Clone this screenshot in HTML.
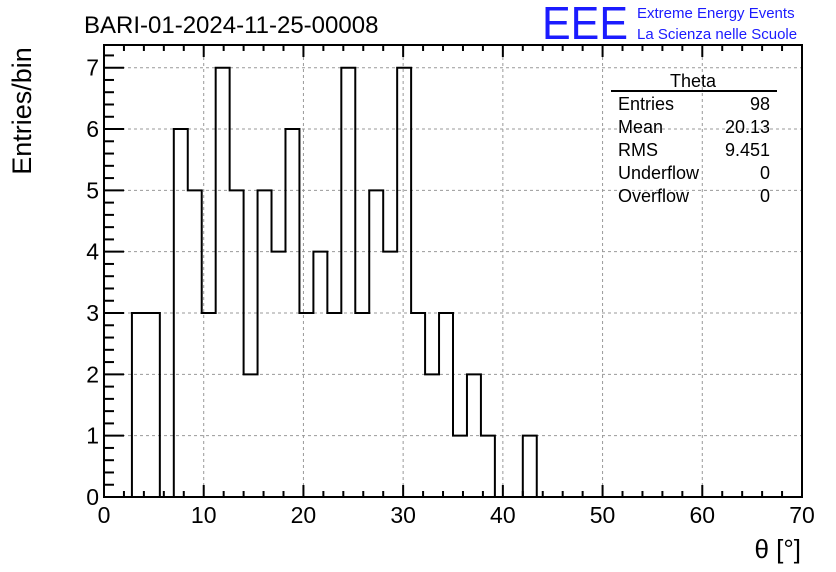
<!DOCTYPE html>
<html><head><meta charset="utf-8"><style>
body{margin:0;background:#fff;}
svg{display:block;font-family:"Liberation Sans",sans-serif;}
</style></head><body>
<svg id="c" width="836" height="572">
<text x="84" y="33" font-size="24">BARI-01-2024-11-25-00008</text>
<text x="542" y="39" font-size="46" fill="#1b1bff" textLength="86" lengthAdjust="spacingAndGlyphs">EEE</text>
<text x="637" y="18" font-size="15" fill="#1b1bff">Extreme Energy Events</text>
<text x="637" y="39" font-size="15" fill="#1b1bff">La Scienza nelle Scuole</text>
<text transform="translate(31,111) rotate(-90)" text-anchor="middle" font-size="27">Entries/bin</text>
<text x="801" y="558" text-anchor="end" font-size="26">θ [°]</text>
<g id="grid"></g><g id="hist"></g><g id="axes"></g>
<g font-size="18">
<text x="693" y="87" text-anchor="middle">Theta</text>
<line x1="611" y1="91" x2="777" y2="91" stroke="#000" stroke-width="2"/>
<text x="618" y="110">Entries</text><text x="770" y="110" text-anchor="end">98</text>
<text x="618" y="133">Mean</text><text x="770" y="133" text-anchor="end">20.13</text>
<text x="618" y="156">RMS</text><text x="770" y="156" text-anchor="end">9.451</text>
<text x="618" y="179">Underflow</text><text x="770" y="179" text-anchor="end">0</text>
<text x="618" y="202">Overflow</text><text x="770" y="202" text-anchor="end">0</text>
</g>
</svg>
<script>
const binWidth = 1.4;
const counts = [0,0,3,3,0,6,5,3,7,5,2,5,4,6,3,4,3,7,3,5,4,7,3,2,3,1,2,1,0,0,1,0,0,0,0,0,0,0,0,0,0,0,0,0,0,0,0,0,0,0];
const xTicks = [0,10,20,30,40,50,60,70];
const yTicks = [0,1,2,3,4,5,6,7];
const L=104,R=802,T=45,B=497,xmin=0,xmax=70,ymin=0,ymax=7.37;
const X=v=>L+(v-xmin)/(xmax-xmin)*(R-L);
const Y=v=>B-(v-ymin)/(ymax-ymin)*(B-T);
const NS="http://www.w3.org/2000/svg";
function mk(p,tag,a){const e=document.createElementNS(NS,tag);for(const k in a)e.setAttribute(k,a[k]);p.appendChild(e);return e;}
const grid=document.getElementById('grid'),axes=document.getElementById('axes'),hist=document.getElementById('hist');
xTicks.forEach(t=>{if(t>xmin&&t<xmax){const g=mk(grid,'line',{x1:X(t),x2:X(t),y1:T,y2:B,stroke:'#999','stroke-dasharray':'3,3'});

}});
yTicks.forEach(t=>{if(t>ymin){const g=mk(grid,'line',{x1:L,x2:R,y1:Y(t),y2:Y(t),stroke:'#999','stroke-dasharray':'3,3'});

}});
let d='M'+X(0)+','+Y(0);
counts.forEach((c,i)=>{d+=' L'+X(i*binWidth)+','+Y(c)+' L'+X((i+1)*binWidth)+','+Y(c);});
d+=' L'+X(counts.length*binWidth)+','+Y(0);
const p=mk(hist,'path',{d:d,fill:'none',stroke:'#000','stroke-width':2});


const fr=mk(axes,'rect',{x:L,y:T,width:R-L,height:B-T,fill:'none',stroke:'#000','stroke-width':2});


for(let v=xmin;v<=xmax;v+=2){const big=v%10===0;mk(axes,'line',{x1:X(v),x2:X(v),y1:B,y2:B-(big?12:6),stroke:'#000','stroke-width':2});mk(axes,'line',{x1:X(v),x2:X(v),y1:T,y2:T+(big?12:6),stroke:'#000','stroke-width':2});}
for(let v=0;v<=ymax+0.001;v+=0.2){v=Math.round(v*10)/10;const big=Math.abs(v-Math.round(v))<0.01;mk(axes,'line',{x1:L,x2:L+(big?20:10),y1:Y(v),y2:Y(v),stroke:'#000','stroke-width':2});}
xTicks.forEach(t=>{const e=mk(axes,'text',{x:X(t),y:523,'text-anchor':'middle','font-size':23});e.textContent=t;

});
yTicks.forEach(t=>{const e=mk(axes,'text',{x:99,y:Y(t)+8,'text-anchor':'end','font-size':23});e.textContent=t;

});
</script>
</body></html>
